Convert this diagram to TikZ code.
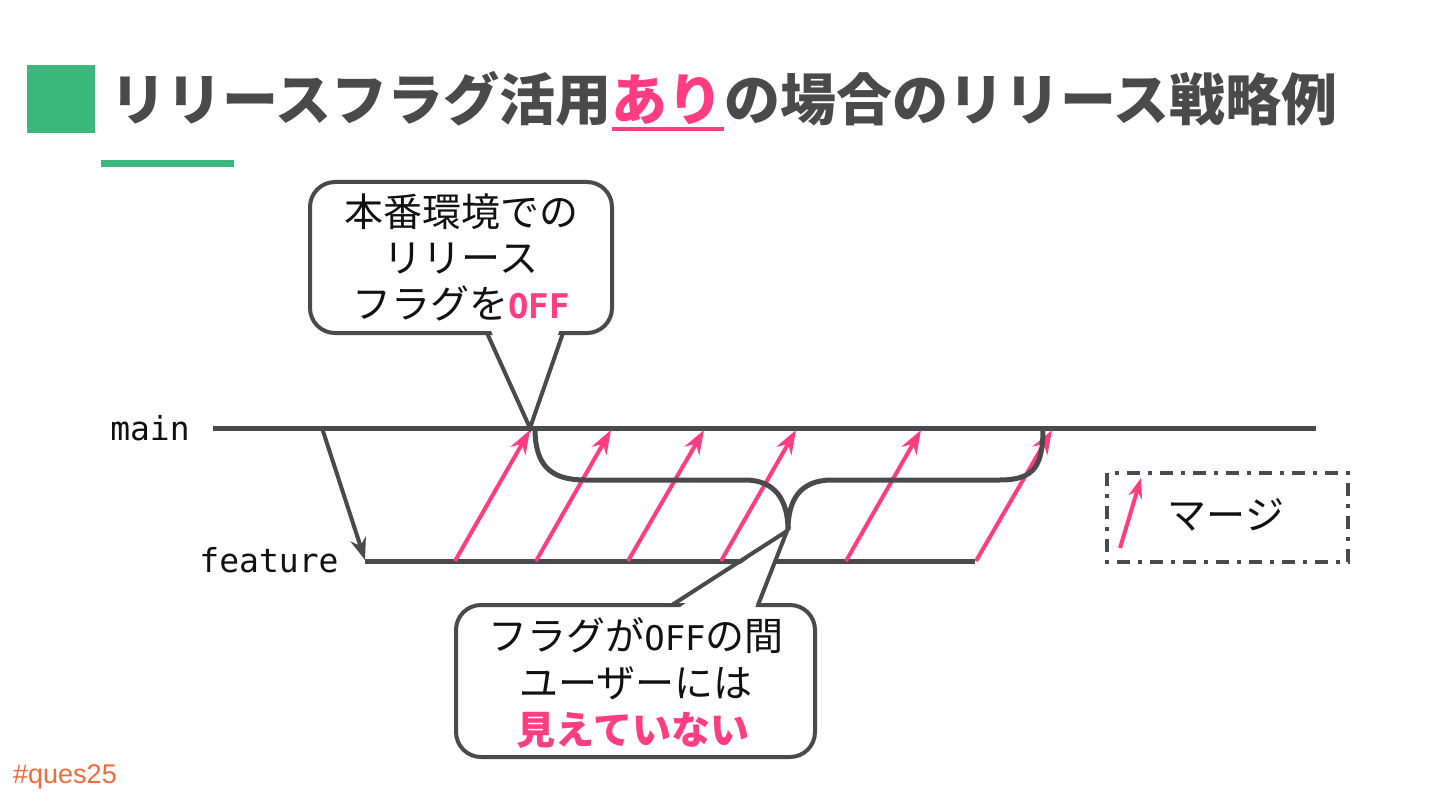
\documentclass[tikz,border=0pt]{standalone}
\usepackage{fontspec}
\setmainfont{Noto Sans CJK JP}
\newfontfamily\jpfont{Noto Sans CJK JP}
\newfontfamily\monofont{DejaVu Sans Mono}
\newfontfamily\hashfont{Liberation Sans}
\usetikzlibrary{arrows.meta}
\definecolor{dg}{HTML}{4A4A4A}
\definecolor{pk}{HTML}{FF3D80}
\definecolor{gr}{HTML}{3CB77D}
\definecolor{orng}{HTML}{F06A3C}
\definecolor{txt}{HTML}{111111}
\tikzset{
  titletext/.style={inner sep=0pt, anchor=base west, font=\jpfont\bfseries\fontsize{56}{60}\selectfont, text=dg},
  branchline/.style={draw=dg, line width=5pt},
  mergearrow/.style={draw=pk, line width=4pt, -{Stealth[length=24pt,width=17pt]}},
  callout/.style={draw=dg, line width=4pt, fill=white, rounded corners=25pt},
  pointer/.style={draw=dg, line width=4pt, line join=miter},
  bodytext/.style={inner sep=0pt, font=\jpfont\fontsize{39}{42}\selectfont, text=txt},
  labeltext/.style={inner sep=0pt, font=\monofont\fontsize{33}{36}\selectfont, text=txt},
}
\begin{document}
\begin{tikzpicture}[x=1pt,y=-1pt]
\useasboundingbox[fill=white] (0,0) rectangle (1440,810);
% title
\fill[gr] (27,65) rectangle (95,133);
\fill[gr] (101,160) rectangle (234,167);
\node[titletext] (t1) at (110,121) {リリースフラグ活用};
\node[titletext, text=pk] (t2) at (t1.base east) {あり};
\node[titletext] (t3) at (t2.base east) {の場合のリリース戦略例};
\draw[pk, line width=4pt] ([yshift=-8pt]t2.base west) -- ([yshift=-8pt]t2.base east);
% branches
\coordinate (m0) at (213,428);
\coordinate (m1) at (1316,428);
\coordinate (f0) at (365,561);
\coordinate (f1) at (975,561);
\coordinate (b0) at (322,428);
\draw[branchline] (m0) -- (m1);
\draw[branchline] (f0) -- (f1);
\draw[draw=dg, line width=4pt, -{Stealth[length=22pt,width=16pt]}] (b0) -- ([yshift=1pt]f0);
\node[labeltext] (lmain) at (150,428) {main};
\node[labeltext] (lfeat) at (269,560) {feature};
% merge arrows
\foreach \a/\b [count=\i] in {455/530, 536/611, 628/704, 721/796, 846/921, 976/1052} {
  \coordinate (s\i) at (\a,561);
  \coordinate (e\i) at (\b,430);
  \draw[mergearrow] (s\i) -- (e\i);
}
% brace
\draw[draw=dg, line width=5pt] (535,428) .. controls (535,465) and (550,480) .. (585,480) -- (745,480) .. controls (775,480) and (788,500) .. (788,530) .. controls (788,500) and (800,480) .. (832,480) -- (1000,480) .. controls (1035,480) and (1043,465) .. (1043,428);
% top callout
\coordinate (tp) at (530,428);
\draw[callout] (310,182) rectangle (612,333);
\fill[white] (490,328) -- (560,328) -- (tp) -- cycle;
\draw[pointer] (487,333) -- (tp) -- (563,333);
\node[bodytext] (c1a) at (461,212) {本番環境での};
\node[bodytext] (c1b) at (461,258) {リリース};
\node[bodytext, anchor=base] (c1c) at (461,318) {フラグを{\monofont\bfseries\fontsize{34}{36}\selectfont\color{pk}OFF}};
% bottom callout
\coordinate (bp) at (787,531);
\draw[callout] (456,605) rectangle (815,757);
\fill[white] (676,610) -- (754,610) -- (bp) -- cycle;
\draw[pointer] (672,605) -- (bp) -- (758,605);
\node[bodytext, anchor=base] (c2a) at (636,650) {フラグが{\monofont\fontsize{34}{36}\selectfont OFF}の間};
\node[bodytext] (c2b) at (636,683) {ユーザーには};
\node[bodytext, text=pk, font=\jpfont\bfseries\fontsize{39}{42}\selectfont] (c2c) at (633,730) {見えていない};
% legend
\draw[draw=dg, line width=4pt, dash pattern=on 13pt off 8pt on 4pt off 8pt] (1107,473) rectangle (1348,562);
\coordinate (ls) at (1120,548);
\coordinate (le) at (1141,478);
\draw[draw=pk, line width=4pt, -{Stealth[length=20pt,width=14pt]}] (ls) -- (le);
\node[bodytext] (lg) at (1226,515) {マージ};
% tag
\node[inner sep=0pt, anchor=west, font=\hashfont\fontsize{27}{30}\selectfont, text=orng] (tag) at (13,777) {\#ques25};
\end{tikzpicture}
\end{document}
